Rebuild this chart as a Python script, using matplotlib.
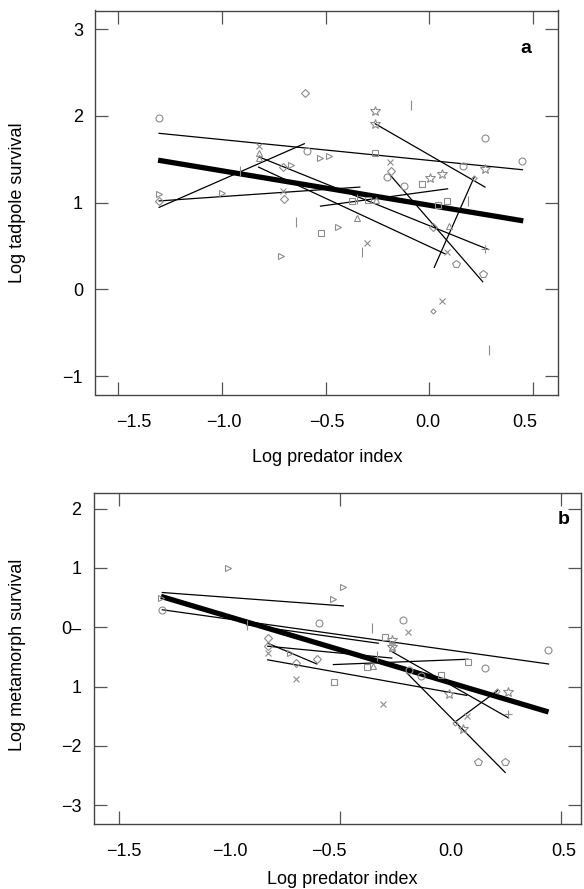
import matplotlib
matplotlib.use("Agg")
import matplotlib.pyplot as plt
import numpy as np

plt.rcParams['font.family'] = ['Liberation Sans', 'DejaVu Sans']

# ---------------- Panel a data ----------------
a_circle_x = [-1.300, -0.588, -0.206, -0.123, 0.163, 0.267, 0.447]
a_circle_y = [1.98, 1.595, 1.30, 1.19, 1.42, 1.745, 1.48]
a_star_x = [-0.261, -0.261, 0.002, 0.062, 0.267]
a_star_y = [2.06, 1.91, 1.29, 1.33, 1.39]
a_vline_x = [-0.088, -0.912, -0.641, -0.350, -0.323, 0.187, 0.285]
a_vline_y = [2.13, 1.36, 0.78, 1.04, 0.43, 1.02, -0.70]
a_diam_x = [-0.600, -0.705, -0.185, -1.300, -0.700, 0.018]
a_diam_y = [2.26, 1.41, 1.36, 1.02, 1.04, 0.72]
a_sdiam_x = [0.216, 0.018]
a_sdiam_y = [1.29, -0.245]
a_tri_x = [-0.820, -0.820, -0.347, -0.259, 0.095]
a_tri_y = [1.57, 1.52, 0.82, 1.03, 0.73]
a_trir_x = [-1.300, -1.000, -0.667, -0.527, -0.482, -0.442, -0.715]
a_trir_y = [1.10, 1.11, 1.43, 1.51, 1.54, 0.715, 0.39]
a_sq_x = [-0.261, -0.035, -0.524, -0.374, -0.294, 0.084, 0.042]
a_sq_y = [1.57, 1.22, 0.646, 1.02, 1.03, 1.02, 0.97]
a_x_x = [-0.820, -0.190, -0.705, -0.302, 0.083, 0.062]
a_x_y = [1.65, 1.47, 1.14, 0.54, 0.43, -0.135]
a_plus_x = [0.267]
a_plus_y = [0.46]
a_pent_x = [0.128, 0.256]
a_pent_y = [0.29, 0.18]

# group regression lines (start x, start y, end x, end y)
a_seg_x0 = [-1.300, -1.300, -1.300, -0.524, -0.822, -0.822, -0.261, -0.193, 0.023]
a_seg_y0 = [1.80, 0.946, 1.02, 0.96, 1.53, 1.41, 1.91, 1.33, 0.254]
a_seg_x1 = [0.447, -0.602, -0.335, 0.087, 0.283, 0.075, 0.267, 0.256, 0.216]
a_seg_y1 = [1.38, 1.68, 1.18, 1.16, 0.46, 0.41, 1.18, 0.088, 1.30]
a_fit_x = [-1.305, 0.451]
a_fit_y = [1.49, 0.79]

# ---------------- Panel b data ----------------
b_trir_x = [-1.005, -0.488, -0.530, -1.310, -0.726]
b_trir_y = [1.005, 0.677, 0.48, 0.49, -0.43]
b_circle_x = [-1.304, -0.594, -0.214, 0.440, -0.133, -0.190, 0.156]
b_circle_y = [0.295, 0.07, 0.115, -0.38, -0.82, -0.72, -0.69]
b_vline_x = [-0.922, -0.357, -0.334]
b_vline_y = [0.04, -0.01, -0.48]
b_x_x = [-0.191, -0.827, -0.700, -0.307, 0.073]
b_x_y = [-0.08, -0.435, -0.87, -1.30, -1.50]
b_sq_x = [-0.296, -0.527, -0.379, -0.043, 0.078]
b_sq_y = [-0.165, -0.92, -0.67, -0.81, -0.586]
b_star_x = [-0.266, -0.266, -0.007, 0.262, 0.058]
b_star_y = [-0.21, -0.33, -1.12, -1.10, -1.71]
b_tri_x = [-0.266, -0.352]
b_tri_y = [-0.35, -0.65]
b_diam_x = [-0.827, -0.827, -0.700, -0.605]
b_diam_y = [-0.18, -0.32, -0.60, -0.53]
b_sdiam_x = [0.209, 0.020]
b_sdiam_y = [-1.07, -1.61]
b_plus_x = [0.262]
b_plus_y = [-1.47]
b_pent_x = [0.123, 0.247]
b_pent_y = [-2.27, -2.27]

b_seg_x0 = [-1.304, -1.304, -0.922, -0.827, -0.827, -0.827, -0.530, -0.266, -0.198, 0.020]
b_seg_y0 = [0.586, 0.295, 0.04, -0.27, -0.32, -0.55, -0.63, -0.41, -0.77, -1.60]
b_seg_x1 = [-0.485, 0.443, -0.327, -0.605, -0.266, 0.073, 0.078, 0.262, 0.247, 0.212]
b_seg_y1 = [0.36, -0.62, -0.27, -0.62, -0.52, -1.15, -0.54, -1.53, -2.45, -1.07]
b_fit_x = [-1.310, 0.443]
b_fit_y = [0.52, -1.43]

x_ticks = [-1.5, -1.0, -0.5, 0.0, 0.5]
x_ticklabels = ['\u22121.5', '\u22121.0', '\u22120.5', '0.0', '0.5']
a_xlabel_pos = [-1.42, -0.99, -0.495, -0.01, 0.46]
b_xlabel_pos = [-1.48, -1.0, -0.55, 0.0, 0.51]
a_yticks = [-1, 0, 1, 2, 3]
a_yticklabels = ['\u22121', '0', '1', '2', '3']
b_yticks = [2, 1, 0, -1, -2, -3]
b_yticklabels = ['2', '1', '0\u2013', '1', '\u22122', '\u22123']

GREY = '#8c8c8c'
FS = 13

fig = plt.figure(figsize=(5.84, 8.89), dpi=100)
W, H = 584.0, 889.0
axa = fig.add_axes([95.5 / W, 1 - 395 / H, (558 - 95.5) / W, (395 - 10.5) / H])
axb = fig.add_axes([94 / W, 1 - 824 / H, (581 - 94) / W, (824 - 492.7) / H])


def markers(ax, groups):
    for xs, ys, m, s in groups:
        ax.plot(xs, ys, linestyle='none', marker=m, markersize=s,
                markerfacecolor='none', markeredgecolor=GREY,
                markeredgewidth=0.8, color=GREY)


def style(ax, xlim, ylim, yt, ytl, xlabpos):
    ax.set_xlim(*xlim)
    ax.set_ylim(*ylim)
    ax.set_xticks(xlabpos)
    ax.set_xticklabels(x_ticklabels, fontsize=FS)
    ax.set_xticks(x_ticks, minor=True)
    ax.set_yticks(yt)
    ax.set_yticklabels(ytl, fontsize=FS)
    ax.tick_params(axis='x', which='major', length=0, pad=14)
    ax.tick_params(axis='x', which='minor', direction='in', length=9.5,
                   width=0.9, color='#555555', top=True, bottom=True)
    ax.tick_params(axis='y', which='major', direction='in', length=9.5,
                   width=0.9, color='#555555', left=True, right=True, pad=9)
    for sp in ax.spines.values():
        sp.set_color('#444444')
        sp.set_linewidth(1.0)


# Panel a
for x0, y0, x1, y1 in zip(a_seg_x0, a_seg_y0, a_seg_x1, a_seg_y1):
    axa.plot([x0, x1], [y0, y1], color='black', lw=0.9)
axa.plot(a_fit_x, a_fit_y, color='black', lw=3.8, solid_capstyle='butt')
markers(axa, [
    (a_circle_x, a_circle_y, 'o', 5.0),
    (a_star_x, a_star_y, '*', 7.0),
    (a_vline_x, a_vline_y, '|', 7.0),
    (a_diam_x, a_diam_y, 'D', 4.3),
    (a_sdiam_x, a_sdiam_y, 'D', 2.6),
    (a_tri_x, a_tri_y, '^', 5.0),
    (a_trir_x, a_trir_y, '>', 5.0),
    (a_sq_x, a_sq_y, 's', 5.0),
    (a_x_x, a_x_y, 'x', 5.0),
    (a_plus_x, a_plus_y, '+', 6.0),
    (a_pent_x, a_pent_y, 'p', 5.5),
])
style(axa, (-1.606, 0.618), (-1.219, 3.217), a_yticks, a_yticklabels, a_xlabel_pos)
axa.text(0.93, 0.9, 'a', transform=axa.transAxes, fontsize=FS + 1,
         fontweight='bold', ha='center', va='center')

# Panel b
for x0, y0, x1, y1 in zip(b_seg_x0, b_seg_y0, b_seg_x1, b_seg_y1):
    axb.plot([x0, x1], [y0, y1], color='black', lw=0.9)
axb.plot(b_fit_x, b_fit_y, color='black', lw=3.8, solid_capstyle='butt')
markers(axb, [
    (b_trir_x, b_trir_y, '>', 5.0),
    (b_circle_x, b_circle_y, 'o', 5.0),
    (b_vline_x, b_vline_y, '|', 7.0),
    (b_x_x, b_x_y, 'x', 5.0),
    (b_sq_x, b_sq_y, 's', 5.0),
    (b_star_x, b_star_y, '*', 7.0),
    (b_tri_x, b_tri_y, '^', 5.0),
    (b_diam_x, b_diam_y, 'D', 4.3),
    (b_sdiam_x, b_sdiam_y, 'D', 2.6),
    (b_plus_x, b_plus_y, '+', 6.0),
    (b_pent_x, b_pent_y, 'p', 5.5),
])
style(axb, (-1.613, 0.590), (-3.32, 2.27), b_yticks, b_yticklabels, b_xlabel_pos)
axb.text(0.965, 0.92, 'b', transform=axb.transAxes, fontsize=FS + 1,
         fontweight='bold', ha='center', va='center')

# axis titles
fig.text(18 / W, 1 - 203 / H, 'Log tadpole survival', rotation=90,
         ha='center', va='center', fontsize=FS)
fig.text(18 / W, 1 - 655 / H, 'Log metamorph survival', rotation=90,
         ha='center', va='center', fontsize=FS)
fig.text(327 / W, 1 - 458 / H, 'Log predator index', ha='center',
         va='center', fontsize=FS)
fig.text(342 / W, 1 - 880 / H, 'Log predator index', ha='center',
         va='center', fontsize=FS)

fig.savefig('out.png', dpi=100)
